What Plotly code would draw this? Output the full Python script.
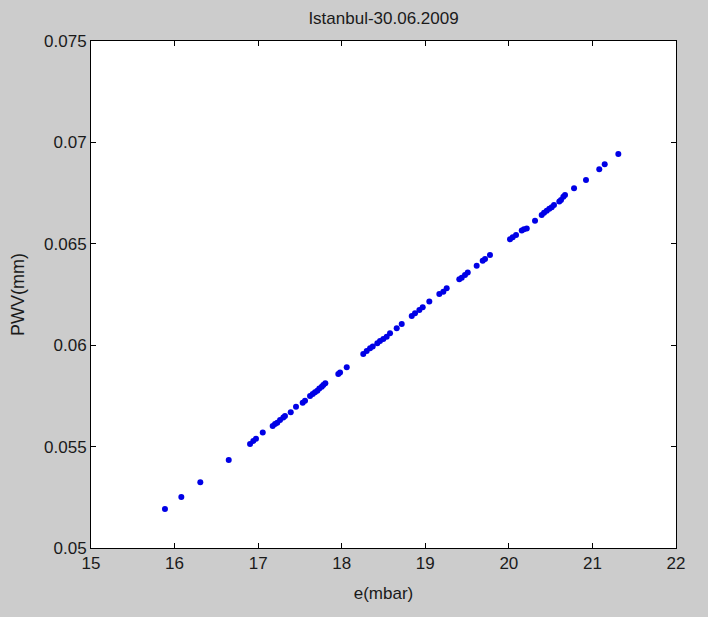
import plotly.graph_objects as go

# e (mbar) values
e_mbar = [15.885, 16.081, 16.308, 16.648, 16.903, 16.942, 16.974, 17.055, 17.174, 17.202,
          17.229, 17.262, 17.301, 17.321, 17.390, 17.453, 17.533, 17.561, 17.621, 17.653,
          17.680, 17.708, 17.732, 17.761, 17.780, 17.804, 17.959, 17.980, 18.060, 18.258,
          18.299, 18.339, 18.371, 18.426, 18.458, 18.498, 18.538, 18.578, 18.658, 18.718,
          18.838, 18.877, 18.929, 18.969, 19.048, 19.168, 19.216, 19.256, 19.407, 19.436,
          19.475, 19.508, 19.615, 19.687, 19.715, 19.774, 20.014, 20.046, 20.086, 20.154,
          20.181, 20.214, 20.313, 20.393, 20.421, 20.453, 20.484, 20.513, 20.540, 20.604,
          20.624, 20.652, 20.672, 20.780, 20.923, 21.082, 21.147, 21.310]

# PWV (mm) values
pwv_mm = [0.05192, 0.05251, 0.05324, 0.05434, 0.05513, 0.05528, 0.05539, 0.05569, 0.05602, 0.05611,
          0.05618, 0.05631, 0.05644, 0.05651, 0.05669, 0.05697, 0.05716, 0.05726, 0.05750, 0.05759,
          0.05768, 0.05776, 0.05786, 0.05795, 0.05804, 0.05812, 0.05858, 0.05866, 0.05891, 0.05957,
          0.05971, 0.05985, 0.05993, 0.06009, 0.06021, 0.06031, 0.06042, 0.06059, 0.06083, 0.06105,
          0.06144, 0.06157, 0.06174, 0.06187, 0.06215, 0.06252, 0.06264, 0.06281, 0.06325, 0.06333,
          0.06346, 0.06358, 0.06392, 0.06417, 0.06425, 0.06445, 0.06522, 0.06532, 0.06543, 0.06565,
          0.06572, 0.06576, 0.06614, 0.06642, 0.06653, 0.06663, 0.06673, 0.06680, 0.06691, 0.06708,
          0.06716, 0.06732, 0.06741, 0.06774, 0.06815, 0.06867, 0.06892, 0.06943]

x_ticks = [15, 16, 17, 18, 19, 20, 21, 22]
x_ticktext = ["15", "16", "17", "18", "19", "20", "21", "22"]
y_ticks = [0.05, 0.055, 0.06, 0.065, 0.07, 0.075]
y_ticktext = ["0.05", "0.055", "0.06", "0.065", "0.07", "0.075"]

title_text = "Istanbul-30.06.2009"
x_label = "e(mbar)"
y_label = "PWV(mm)"

FONT = "Liberation Sans, Arial, sans-serif"
TXT = "#1a1a1a"

fig = go.Figure()
fig.add_trace(go.Scatter(
    x=e_mbar, y=pwv_mm, mode="markers",
    marker=dict(color="rgb(0,0,230)", size=6, line=dict(width=0)),
    showlegend=False,
))

axis_common = dict(
    showgrid=False, zeroline=False,
    showline=True, linecolor="black", linewidth=1, mirror="ticks",
    ticks="inside", ticklen=5, tickcolor="black", tickwidth=1,
    tickfont=dict(family=FONT, size=17, color=TXT),
)

fig.update_layout(
    width=708, height=617,
    paper_bgcolor="#cccccc", plot_bgcolor="white",
    margin=dict(l=91, r=32, t=41, b=69),
    font=dict(family=FONT, color=TXT),
    title=dict(text=title_text, x=0.5417, xanchor="center", y=0.971, yanchor="middle",
               font=dict(family=FONT, size=17, color=TXT)),
    xaxis=dict(range=[15, 22], tickvals=x_ticks, ticktext=x_ticktext,
               title=dict(text=x_label, font=dict(family=FONT, size=17, color=TXT), standoff=14),
               **axis_common),
    yaxis=dict(range=[0.05, 0.075], tickvals=y_ticks, ticktext=y_ticktext,
               title=dict(text=y_label, font=dict(family=FONT, size=18, color=TXT), standoff=14),
               **axis_common),
)

fig.write_html("out.html")
